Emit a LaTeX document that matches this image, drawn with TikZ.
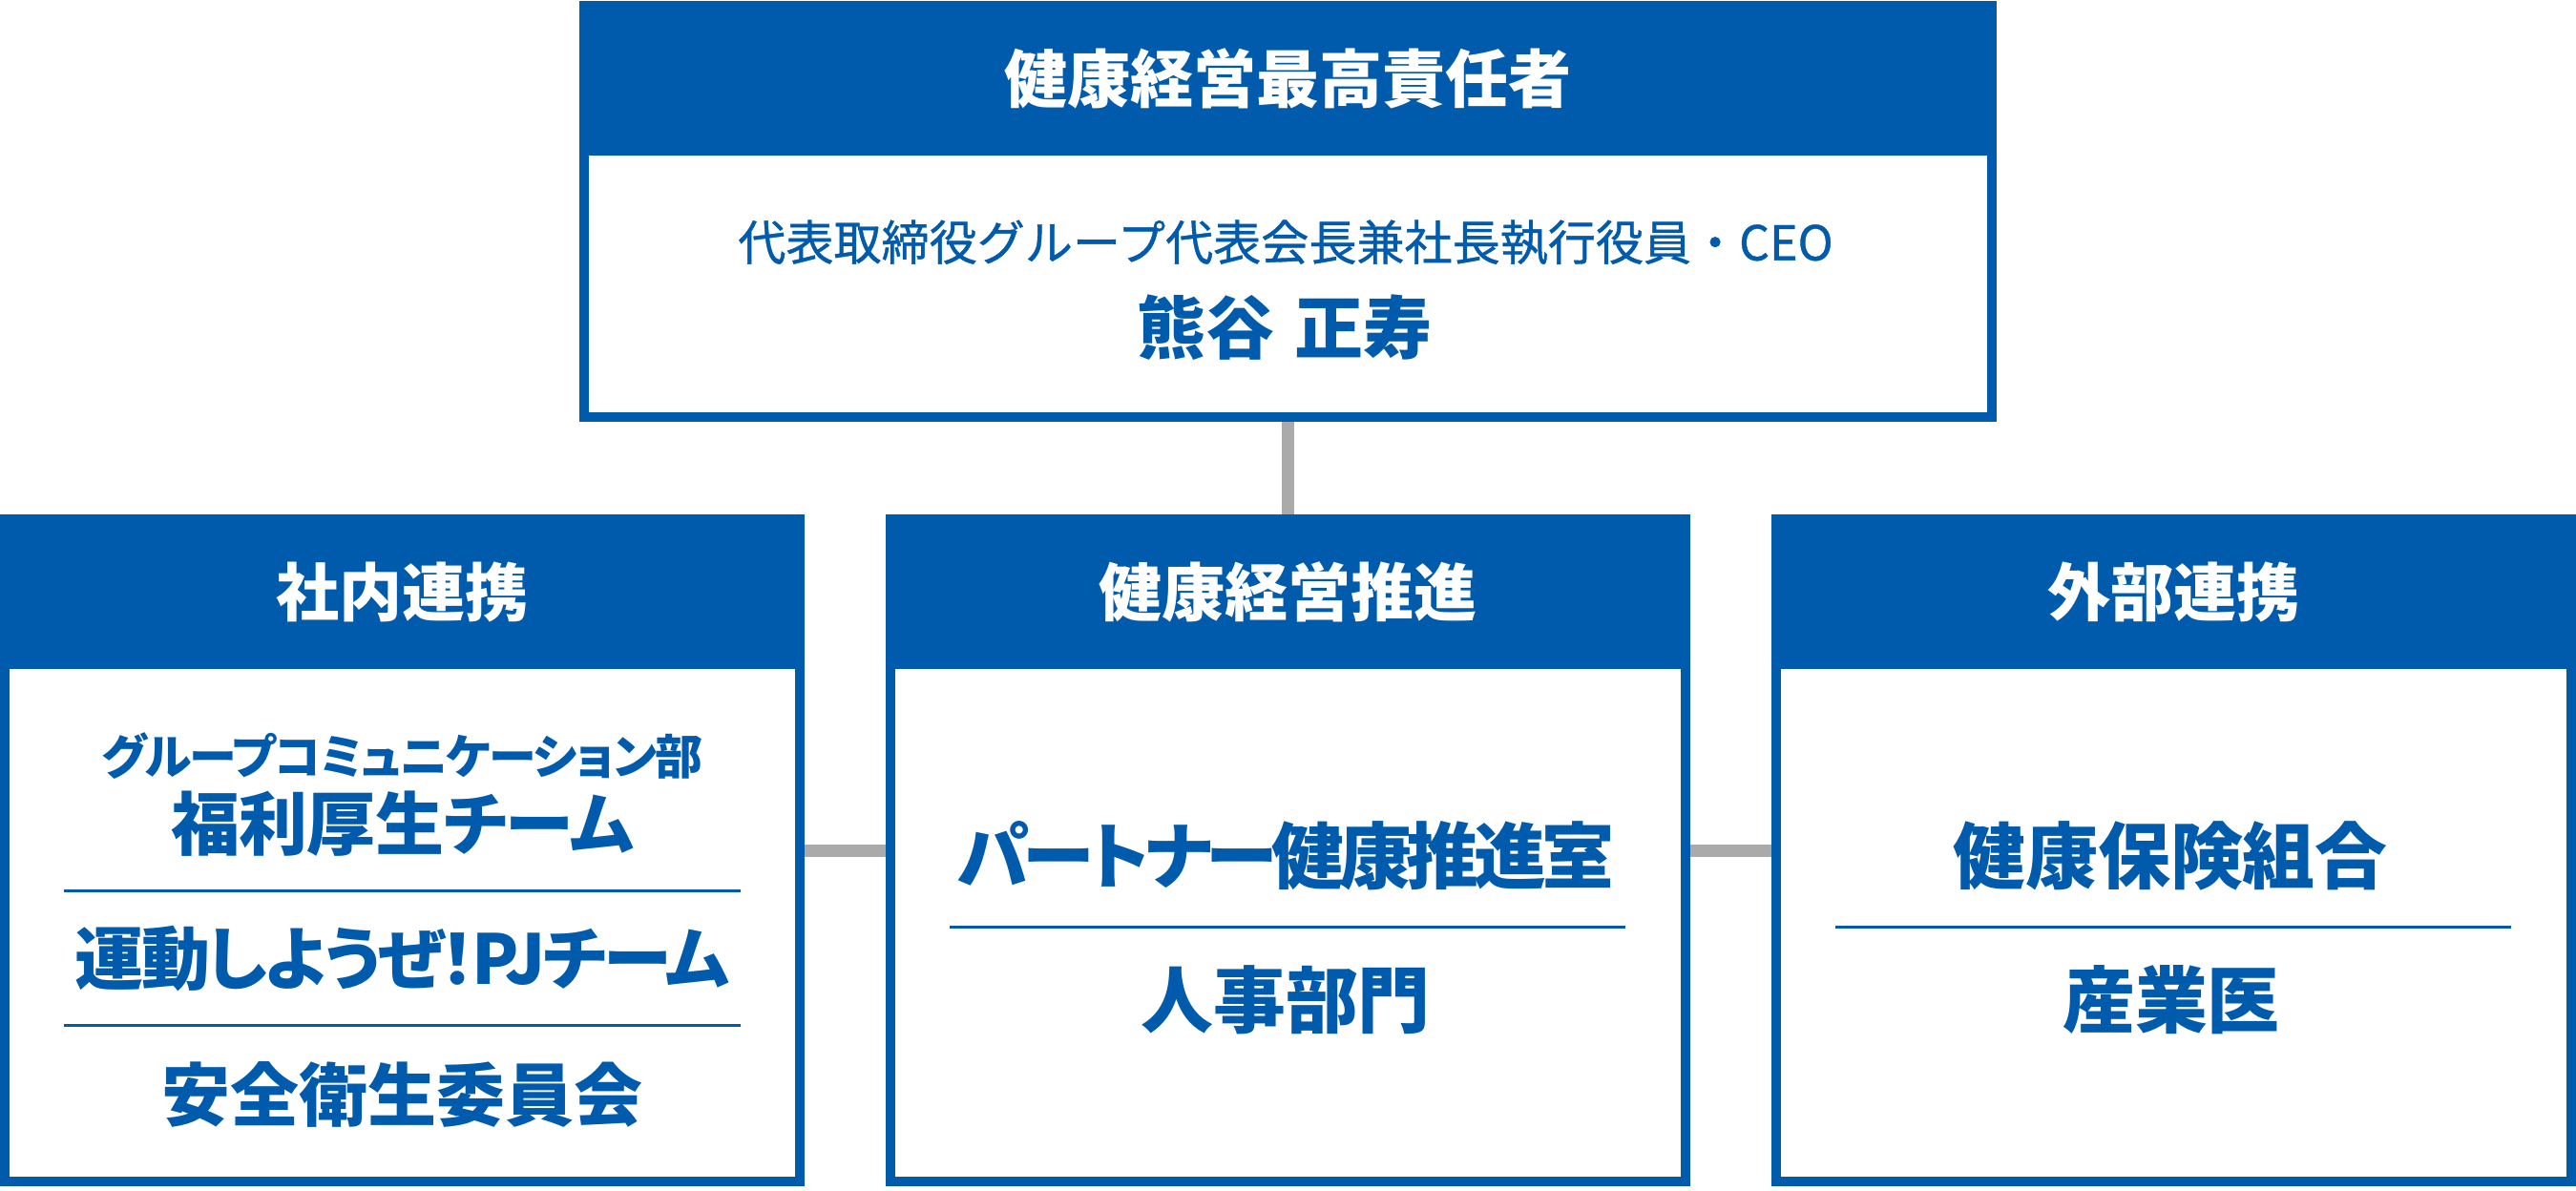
\documentclass[tikz,border=0pt]{standalone}
\usepackage{fontspec}
\setmainfont{Noto Sans CJK JP}
\newfontfamily\jpprop{Noto Sans CJK JP}[RawFeature=+palt]
\newfontfamily\jpmedium{Noto Sans CJK JP}[FakeBold=0.8]
\usepackage{tikz}
\usetikzlibrary{calc}
\definecolor{kblue}{RGB}{0,91,172}
\definecolor{kgray}{RGB}{170,170,170}
\newcommand\headfont{\bfseries\fontsize{18.8pt}{20pt}\selectfont}
\newcommand\itemfont{\jpprop\bfseries\fontsize{21.6pt}{24pt}\selectfont}
\newcommand\smallitemfont{\jpprop\bfseries\fontsize{20.5pt}{23pt}\selectfont}
\tikzset{
	frame/.style={draw=kblue, fill=white, line width=1mm, inner sep=0pt},
	headbar/.style={fill=kblue, text=white, inner sep=0pt, outer sep=0pt, anchor=north, font=\headfont},
	item/.style={text=kblue, inner sep=0pt, font=\itemfont},
	smallitem/.style={text=kblue, inner sep=0pt, font=\smallitemfont},
	link/.style={draw=kgray, line width=1.3mm},
	rule/.style={draw=kblue, line width=0.3mm}
}

\begin{document}
\begin{tikzpicture}
			%%%%% START %%%%%
			
			\fill[white] (0, 0) rectangle (26.99, -12.47);
			
			% chief officer
			\node[frame, minimum width=14.75cm, minimum height=4.31cm] (chief) at (13.495, -2.215) {};
			\node[headbar, minimum width=14.85cm, minimum height=1.62cm] (chiefhead) at (chief.north) {健康経営最高責任者};
			\node[text=kblue, inner sep=0pt, font=\jpmedium\fontsize{14.25pt}{16pt}\selectfont] (chieftitle) at (13.47, -2.54) {代表取締役グループ代表会長兼社長執行役員・CEO};
			\node[text=kblue, inner sep=0pt, font=\bfseries\fontsize{20.5pt}{23pt}\selectfont] (chiefname) at (13.46, -3.43) {熊谷\hspace{0.3em}正寿};
			
			% three groups
			\node[frame, minimum width=8.33cm, minimum height=6.94cm] (inner) at (4.215, -8.91) {};
			\node[frame, minimum width=8.33cm, minimum height=6.94cm] (promo) at (13.495, -8.91) {};
			\node[frame, minimum width=8.33cm, minimum height=6.94cm] (outer) at (22.775, -8.91) {};
			
			\node[headbar, minimum width=8.43cm, minimum height=1.62cm] (innerhead) at (inner.north) {社内連携};
			\node[headbar, minimum width=8.43cm, minimum height=1.62cm] (promohead) at (promo.north) {健康経営推進};
			\node[headbar, minimum width=8.43cm, minimum height=1.62cm] (outerhead) at (outer.north) {外部連携};
			
			\draw[link] (chief.south) -- (promo.north);
			\draw[link] (inner.east) -- (promo.west);
			\draw[link] (promo.east) -- (outer.west);
			
			% inner
			\node[text=kblue, inner sep=0pt, font=\jpprop\bfseries\fontsize{14.2pt}{16pt}\selectfont\addfontfeature{LetterSpace=-3}] (commdept) at (4.215, -7.92) {グループコミュニケーション部};
			\node[smallitem, font=\smallitemfont\addfontfeature{LetterSpace=-1}] (welfare) at (4.215, -8.63) {福利厚生チーム};
			\draw[rule] (0.67, -9.33) -- (7.76, -9.33);
			\node[smallitem, font=\smallitemfont\addfontfeature{LetterSpace=-4}] (exercise) at (4.215, -10.05) {運動しようぜ！PJチーム};
			\draw[rule] (0.67, -10.745) -- (7.76, -10.745);
			\node[smallitem] (safety) at (4.215, -11.47) {安全衛生委員会};
			
			% promotion
			\node[item, font=\itemfont\addfontfeature{LetterSpace=-7}] (partner) at (13.47, -8.97) {パートナー健康推進室};
			\draw[rule] (9.95, -9.71) -- (17.03, -9.71);
			\node[item] (hr) at (13.47, -10.48) {人事部門};
			
			% outer
			\node[item] (insurance) at (22.74, -8.97) {健康保険組合};
			\draw[rule] (19.23, -9.71) -- (26.31, -9.71);
			\node[item] (doctor) at (22.75, -10.48) {産業医};
			
			%%%%% END %%%%%
\end{tikzpicture}
\end{document}
